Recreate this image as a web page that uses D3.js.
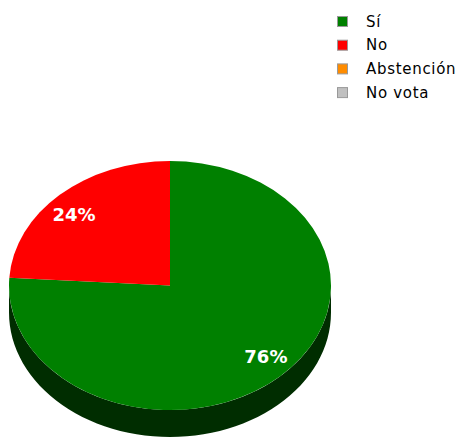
<!DOCTYPE html>
<html>
<head>
<meta charset="utf-8">
<script src="https://cdn.jsdelivr.net/npm/d3@7"></script>
<style>
  body { margin: 0; background: #fff; }
  svg { display: block; font-family: "DejaVu Sans", sans-serif; }
</style>
</head>
<body>
<div class="chart"></div>
<script>
// data
var categories = ['Sí', 'No', 'Abstención', 'No vota']
var values = [76, 24, 0, 0]
var colors = ['#008000', '#ff0000', '#ff8c00', '#c0c0c0']
var sideColors = ['#002d00', '#5a0000', '#5a3200', '#444444']

var width = 461, height = 438
var cx = 170, cy = 285.5, rx = 161, ry = 124.5, depth = 27

var svg = d3.select(".chart").append("svg")
    .attr("width", width)
    .attr("height", height)

var pieData = d3.pie().sort(null).value(d => d.v)(
  categories.map((c, i) => ({ name: c, v: values[i], i: i }))
).filter(d => d.data.v > 0)

// ellipse projection: angle 0 at top, clockwise
var px = a => cx + rx * Math.sin(a)
var py = a => cy - ry * Math.cos(a)

// side walls (only the front half shows)
pieData.forEach(d => {
  var s = Math.max(d.startAngle, Math.PI / 2)
  var e = Math.min(d.endAngle, Math.PI * 1.5)
  if (e <= s) return
  var n = 60
  var pts = d3.range(n + 1).map(k => s + (e - s) * k / n)
  var path = d3.path()
  pts.forEach((a, k) => k ? path.lineTo(px(a), py(a)) : path.moveTo(px(a), py(a)))
  pts.slice().reverse().forEach(a => path.lineTo(px(a), py(a) + depth))
  path.closePath()
  svg.append("path")
    .attr("d", path.toString())
    .attr("fill", sideColors[d.data.i])
})

// top face
var arc = d3.arc().innerRadius(0).outerRadius(ry)
svg.append("g")
    .attr("transform", "translate(" + cx + "," + cy + ") scale(" + (rx / ry) + ",1)")
  .selectAll("path")
  .data(pieData)
  .enter().append("path")
    .attr("d", arc)
    .attr("fill", d => colors[d.data.i])

// percent labels
svg.selectAll(".lbl")
  .data(pieData)
  .enter().append("text")
    .attr("class", "lbl")
    .attr("x", d => cx + rx * 0.87 * Math.sin((d.startAngle + d.endAngle) / 2))
    .attr("y", d => cy - ry * 0.78 * Math.cos((d.startAngle + d.endAngle) / 2))
    .attr("text-anchor", "middle")
    .attr("dominant-baseline", "central")
    .attr("fill", "#fff")
    .attr("font-weight", "bold")
    .attr("font-size", 18)
    .text(d => d.data.v + "%")

// legend
var legend = svg.append("g")
  .selectAll("g")
  .data(categories)
  .enter().append("g")
    .attr("transform", (d, i) => "translate(337," + (16 + i * 23.7) + ")")

legend.append("rect")
    .attr("x", 0.5).attr("y", 0.5)
    .attr("width", 10).attr("height", 10)
    .attr("fill", (d, i) => colors[i])
    .attr("stroke", "#999")

legend.append("text")
    .attr("x", 29)
    .attr("y", 5.5)
    .attr("dominant-baseline", "central")
    .attr("font-size", 15)
    .attr("letter-spacing", 0.7)
    .attr("fill", "#000")
    .text(d => d)
</script>
</body>
</html>
